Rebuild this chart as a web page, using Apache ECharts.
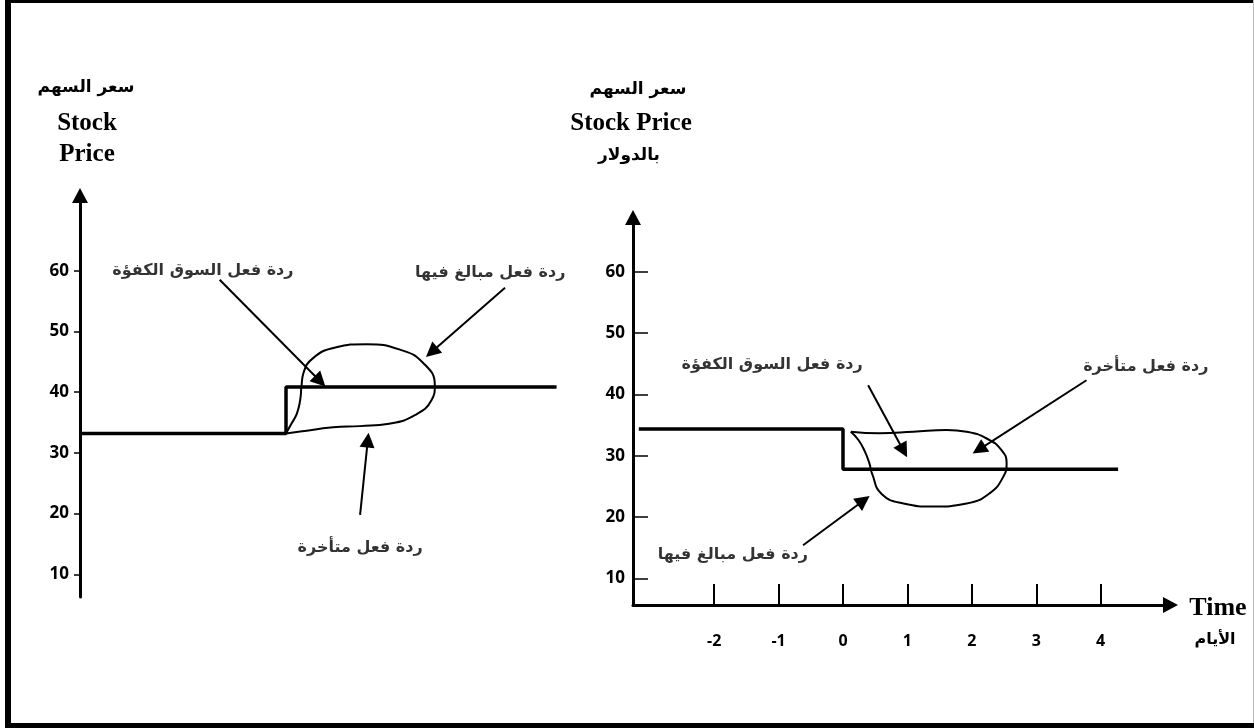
<!DOCTYPE html>
<html dir="ltr" lang="en">
<head>
<meta charset="utf-8">
<script src="https://cdn.jsdelivr.net/npm/echarts@6/dist/echarts.min.js"></script>
<style>
html,body{margin:0;padding:0;background:#fff;direction:ltr;}
#c{width:1254px;height:728px;direction:ltr;}
</style>
</head>
<body>
<div id="c" dir="ltr"></div>
<script>
// ---- data ----
const yTicks = [10, 20, 30, 40, 50, 60];
const xTicks = [-2, -1, 0, 1, 2, 3, 4];

// left panel: price jumps up at day 0
const leftPrice = [[-3.2, 33.2], [0, 33.2], [0, 40.85], [4.2, 40.85]];
// blob (overreaction above, delayed reaction below)
const leftBlob = [
  [0, 33.2], [0.09, 34.9], [0.17, 36.5], [0.22, 38.7], [0.24, 40.9], [0.27, 43.1],
  [0.42, 45.6], [0.75, 47.3], [1.25, 47.9], [1.77, 47.0], [2.13, 44.8], [2.31, 41.1],
  [2.26, 38.7], [2.0, 36.2], [1.6, 34.8], [1.15, 34.4], [0.73, 34.2], [0.22, 33.5], [0, 33.2]
];
const leftArrows = [
  [[-1.03, 58.5], [0.53, 41.8]],
  [[3.4, 57.2], [2.26, 46.6]],
  [[1.15, 19.8], [1.27, 32.1]]
];
const leftNotes = [
  ['ردة فعل السوق الكفؤة', -1.29, 59.9],
  ['ردة فعل مبالغ فيها', 3.17, 59.7],
  ['ردة فعل متأخرة', 1.15, 14.4]
];

// right panel: price falls at day 0
const rightPrice = [[-3.17, 34.35], [0, 34.35], [0, 27.8], [4.27, 27.8]];
const rightBlob = [
  [0.12, 33.9], [0.57, 33.65], [1.09, 33.9], [1.61, 34.2], [1.92, 33.9], [2.23, 32.8],
  [2.46, 30.9], [2.54, 28.75], [2.49, 26.6], [2.28, 23.9], [1.92, 22.2], [1.4, 21.7],
  [0.94, 22.2], [0.6, 23.75], [0.45, 27.1], [0.41, 28.75], [0.34, 30.65], [0.24, 32.55], [0.12, 33.9]
];
const rightArrows = [
  [[0.39, 41.5], [0.94, 30.8]],
  [[3.78, 42.3], [2.11, 31.0]],
  [[-0.62, 15.4], [0.32, 22.7]]
];
const rightNotes = [
  ['ردة فعل السوق الكفؤة', -1.1, 44.8],
  ['ردة فعل متأخرة', 4.7, 44.5],
  ['ردة فعل مبالغ فيها', -1.71, 13.9]
];

// ---- chart ----
const AR = '"DejaVu Sans", sans-serif';
const NUM = '"Open Sans", sans-serif';
const SERIF = '"Liberation Serif", "DejaVu Serif", serif';
const LTR = v => '\u202D' + String(v) + '\u202C';

const chart = echarts.init(document.getElementById('c'), null, {renderer: 'canvas'});

function yAxisCfg(gridIndex, min, max, inside, len, margin) {
  return {
    type: 'value', gridIndex, min, max,
    axisLine: {show: true, onZero: false, symbol: ['none', 'triangle'], symbolSize: [16, 15],
      lineStyle: {color: '#000', width: 3}},
    axisTick: {show: true, inside, length: len, customValues: yTicks,
      lineStyle: {color: '#000', width: 1.5}},
    axisLabel: {show: true, customValues: yTicks, margin, formatter: LTR,
      color: '#000', fontFamily: NUM, fontWeight: 'bold', fontSize: 17},
    splitLine: {show: false}
  };
}

function lineSeries(g, data, width, smooth) {
  return {type: 'line', xAxisIndex: g, yAxisIndex: g, data, smooth: smooth || false,
    showSymbol: false, symbol: 'none', silent: true, clip: false,
    lineStyle: {color: '#000', width}};
}
function arrowSeries(g, arr) {
  return {type: 'lines', coordinateSystem: 'cartesian2d', xAxisIndex: g, yAxisIndex: g,
    symbol: ['none', 'triangle'], symbolSize: [12, 15], silent: true,
    lineStyle: {color: '#000', width: 2, opacity: 1},
    data: arr.map(c => ({coords: c}))};
}
function noteSeries(g, notes) {
  return {type: 'scatter', xAxisIndex: g, yAxisIndex: g, symbolSize: 0, silent: true, clip: false,
    data: notes.map(n => ({name: n[0], value: [n[1], n[2]]})),
    label: {show: true, position: 'inside', formatter: p => p.name, color: '#000',
      fontFamily: AR, fontWeight: 'bold', fontSize: 16}};
}

function txt(text, x, y, font, size) {
  return {type: 'text', x, y, style: {text, fill: '#000', font: 'bold ' + size + 'px ' + font,
    textAlign: 'center', textVerticalAlign: 'middle'}};
}

const option = {
  animation: false,
  backgroundColor: '#fff',
  grid: [
    {left: 80, top: 195.5, width: 537.5, bottom: 131},
    {left: 633, top: 217.5, width: 537.5, bottom: 123}
  ],
  xAxis: [
    {type: 'value', gridIndex: 0, min: -3.198, max: 5.146, show: false},
    {type: 'value', gridIndex: 1, min: -3.26, max: 5.084,
      axisLine: {show: true, onZero: false, symbol: ['none', 'triangle'], symbolSize: [16, 15],
        lineStyle: {color: '#000', width: 3}},
      axisTick: {show: true, inside: true, length: 21, customValues: xTicks,
        lineStyle: {color: '#000', width: 2}},
      axisLabel: {show: true, customValues: xTicks, margin: 28, color: '#000',
        formatter: LTR,
        fontFamily: NUM, fontWeight: 'bold', fontSize: 16},
      splitLine: {show: false}}
  ],
  yAxis: [
    yAxisCfg(0, 6.26, 72.38, false, 6, 11),
    yAxisCfg(1, 5.65, 68.84, true, 15, 8)
  ],
  series: [
    lineSeries(0, leftPrice, 3.5),
    lineSeries(0, leftBlob, 2, 0.5),
    arrowSeries(0, leftArrows),
    noteSeries(0, leftNotes),
    lineSeries(1, rightPrice, 3.5),
    lineSeries(1, rightBlob, 2, 0.5),
    arrowSeries(1, rightArrows),
    noteSeries(1, rightNotes)
  ],
  graphic: [
    {type: 'rect', shape: {x: 5, y: 0, width: 6, height: 728}, style: {fill: '#000'}},
    {type: 'rect', shape: {x: 5, y: 0, width: 1249, height: 3}, style: {fill: '#000'}},
    {type: 'rect', shape: {x: 5, y: 723, width: 1249, height: 5}, style: {fill: '#000'}},
    {type: 'rect', shape: {x: 1253, y: 0, width: 1, height: 723}, style: {fill: '#bbb'}},
    txt('سعر السهم', 86, 88, AR, 17),
    txt('Stock', 87, 124, SERIF, 25),
    txt('Price', 87, 155, SERIF, 25),
    txt('سعر السهم', 638, 90, AR, 17),
    txt('Stock Price', 631, 124, SERIF, 25),
    txt('بالدولار', 629, 156, AR, 17),
    txt('Time', 1218, 608, SERIF, 26),
    txt('الأيام', 1215, 640, AR, 16)
  ]
};
chart.setOption(option);
</script>
</body>
</html>
